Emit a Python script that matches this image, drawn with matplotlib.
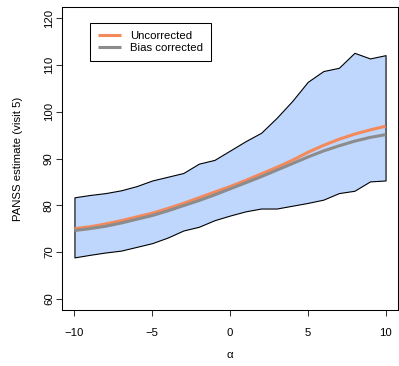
import matplotlib
matplotlib.use("Agg")
import matplotlib.pyplot as plt
import numpy as np

plt.rcParams['font.family'] = ['Liberation Sans', 'DejaVu Sans']

alpha = list(range(-10, 11))
upper = [81.7, 82.2, 82.6, 83.2, 84.1, 85.3, 86.1, 86.9, 88.9, 89.7, 91.7,
         93.7, 95.5, 98.7, 102.3, 106.4, 108.7, 109.4, 112.6, 111.4, 112.1]
lower = [68.85, 69.4, 69.9, 70.3, 71.1, 71.9, 73.1, 74.6, 75.4, 76.8, 77.8,
         78.7, 79.3, 79.3, 79.9, 80.5, 81.2, 82.6, 83.1, 85.1, 85.3]
uncorrected = [75.0, 75.4, 76.0, 76.7, 77.5, 78.3, 79.3, 80.4, 81.6, 82.8, 84.0,
               85.3, 86.7, 88.1, 89.6, 91.3, 92.8, 94.1, 95.2, 96.1, 96.9]
bias_corrected = [74.6, 75.0, 75.5, 76.2, 77.0, 77.8, 78.8, 79.9, 81.0, 82.2, 83.5,
                  84.8, 86.1, 87.5, 88.9, 90.3, 91.6, 92.7, 93.7, 94.5, 95.1]
xticks = [-10, -5, 0, 5, 10]
yticks = [60, 70, 80, 90, 100, 110, 120]

W, H = 399, 366
fig = plt.figure(figsize=(W / 100, H / 100), dpi=100)
L, R, T, B = 62, 398, 7, 310
ax = fig.add_axes([L / W, 1 - B / H, (R - L) / W, (B - T) / H])

ax.fill_between(alpha, lower, upper, facecolor='#BFD7FC', edgecolor='black', linewidth=0.8)
ax.plot(alpha, uncorrected, color='#F4895C', lw=2.2, label='Uncorrected', solid_capstyle='butt')
ax.plot(alpha, bias_corrected, color='#8C8C8C', lw=2.2, label='Bias corrected', solid_capstyle='butt')

ax.set_xlim(-10.8, 10.8)
ax.set_ylim(57.6, 122.4)
ax.set_xticks(xticks)
ax.set_yticks(yticks)
ax.set_xticklabels(['\u221210', '\u22125', '0', '5', '10'])
ax.set_yticklabels([str(v) for v in yticks], rotation=90, va='center')
ax.tick_params(axis='both', direction='out', length=4.3, width=0.75, labelsize=8.2, color='#333333')
ax.tick_params(axis='x', pad=9)
ax.tick_params(axis='y', pad=1.5)
for s in ax.spines.values():
    s.set_linewidth(0.75)

ax.set_xlabel('\u03b1', fontsize=8.2, labelpad=8)
ax.set_ylabel('PANSS estimate (visit 5)', fontsize=8.2, labelpad=15)

leg = ax.legend(loc='upper left', bbox_to_anchor=((90 - L) / (R - L), (B - 23) / (B - T)),
                borderaxespad=0, fontsize=8.2, frameon=True, fancybox=False,
                edgecolor='black', framealpha=1, handlelength=2.0, handletextpad=0.85,
                borderpad=0.7, labelspacing=0.15)
leg.get_frame().set_linewidth(0.75)

fig.savefig('out.png', dpi=100)
